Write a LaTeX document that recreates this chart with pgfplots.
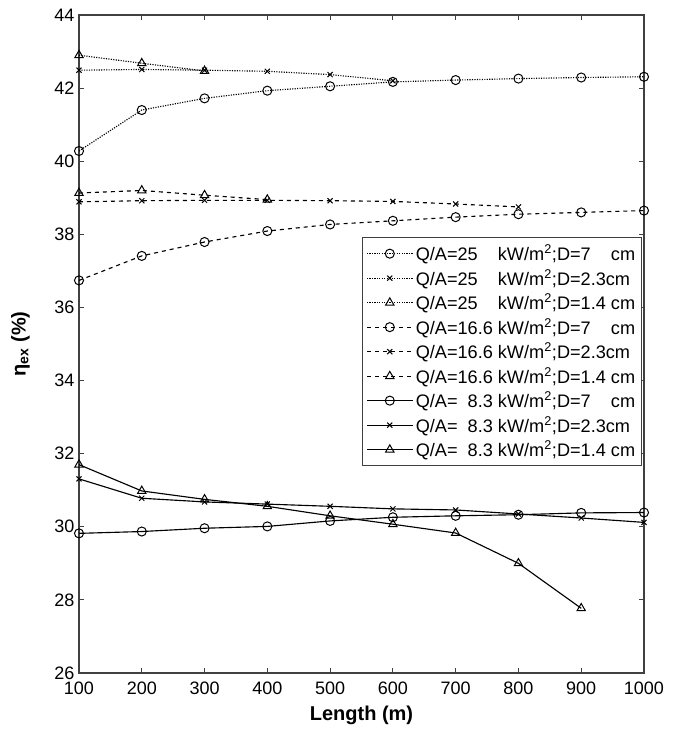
\documentclass[border=0pt]{standalone}
\usepackage{pgfplots}
\pgfplotsset{compat=1.18}
\usepackage{fontspec}
\setmainfont{Liberation Sans}

% legend entry: heat flux, diameter
\newcommand{\qa}[2]{Q/A=#1 kW/m\textsuperscript{2};D=#2}

\begin{document}
\begin{tikzpicture}
\useasboundingbox (-59.25pt,-42pt) rectangle (447pt,504.75pt);
\begin{axis}[
  scale only axis,
  width=423.75pt, height=493.5pt,
  xmin=100, xmax=1000, ymin=26, ymax=44,
  xtick={100,200,...,1000},
  ytick={26,28,...,44},
  tick align=inside,
  major tick length=4pt,
  axis line style={black!75, line width=0.8pt},
  every tick/.style={black!75, line width=0.6pt},
  /pgf/number format/assume math mode=true,
  /pgf/number format/1000 sep={},
  ticklabel style={font=\fontsize{13.5}{16}\selectfont},
  xticklabel style={yshift=-3pt},
  xlabel={\textbf{Length (m)}},
  ylabel={\textbf{η\textsubscript{ex} (\%)}},
  x label style={at={(axis description cs:0.5,0)}, anchor=center, yshift=-32pt, font=\fontsize{15}{18}\selectfont},
  y label style={at={(axis description cs:0,0.5)}, anchor=center, yshift=44pt, font=\fontsize{15}{18}\selectfont},
  legend style={at={(rel axis cs:0.501,0.6626)}, anchor=north west,
    font=\fontsize{13.6}{16}\selectfont, draw=black!75, line width=0.6pt,
    row sep=1.0pt, inner xsep=3pt, inner ysep=3.5pt},
  legend cell align=left,
  legend image code/.code={%
    \draw[mark repeat=2, mark phase=2] plot coordinates {(0cm,0cm) (0.6cm,0cm) (1.2cm,0cm)};},
  every axis plot/.append style={black, line width=0.85pt, mark options={solid, line width=0.75pt}},
]
% Q/A = 25 kW/m^2 (dotted)
\addplot[densely dotted, mark=o, mark size=3.4pt] coordinates {
 (100,40.28) (200,41.40) (300,41.72) (400,41.93) (500,42.05)
 (600,42.17) (700,42.22) (800,42.26) (900,42.29) (1000,42.31)};
\addlegendentry{\qa{25\hphantom{.6}}{7\hphantom{.4 }cm}}
\addplot[densely dotted, mark=x, mark size=2.7pt] coordinates {
 (100,42.49) (200,42.51) (300,42.49) (400,42.46) (500,42.37) (600,42.20)};
\addlegendentry{\qa{25\hphantom{.6}}{2.3cm}}
\addplot[densely dotted, mark=triangle, mark size=3.6pt] coordinates {
 (100,42.90) (200,42.68) (300,42.47)};
\addlegendentry{\qa{25\hphantom{.6}}{1.4 cm}}
% Q/A = 16.6 kW/m^2 (dashed)
\addplot[dashed, mark=o, mark size=3.4pt] coordinates {
 (100,36.74) (200,37.41) (300,37.79) (400,38.09) (500,38.27)
 (600,38.37) (700,38.47) (800,38.55) (900,38.60) (1000,38.65)};
\addlegendentry{\qa{16.6}{7\hphantom{.4 }cm}}
\addplot[dashed, mark=x, mark size=2.7pt] coordinates {
 (100,38.89) (200,38.92) (300,38.93) (400,38.93) (500,38.92)
 (600,38.90) (700,38.83) (800,38.75)};
\addlegendentry{\qa{16.6}{2.3cm}}
\addplot[dashed, mark=triangle, mark size=3.6pt] coordinates {
 (100,39.13) (200,39.20) (300,39.07) (400,38.95)};
\addlegendentry{\qa{16.6}{1.4 cm}}
% Q/A = 8.3 kW/m^2 (solid)
\addplot[solid, mark=o, mark size=3.4pt] coordinates {
 (100,29.82) (200,29.87) (300,29.96) (400,30.01) (500,30.16)
 (600,30.26) (700,30.30) (800,30.33) (900,30.38) (1000,30.39)};
\addlegendentry{\qa{\hphantom{1}8.3}{7\hphantom{.4 }cm}}
\addplot[solid, mark=x, mark size=2.7pt] coordinates {
 (100,31.31) (200,30.78) (300,30.68) (400,30.62) (500,30.56)
 (600,30.49) (700,30.46) (800,30.35) (900,30.24) (1000,30.12)};
\addlegendentry{\qa{\hphantom{1}8.3}{2.3cm}}
\addplot[solid, mark=triangle, mark size=3.6pt] coordinates {
 (100,31.70) (200,30.98) (300,30.75) (400,30.56) (500,30.30)
 (600,30.07) (700,29.83) (800,29.00) (900,27.77)};
\addlegendentry{\qa{\hphantom{1}8.3}{1.4 cm}}
\end{axis}
\end{tikzpicture}
\end{document}
